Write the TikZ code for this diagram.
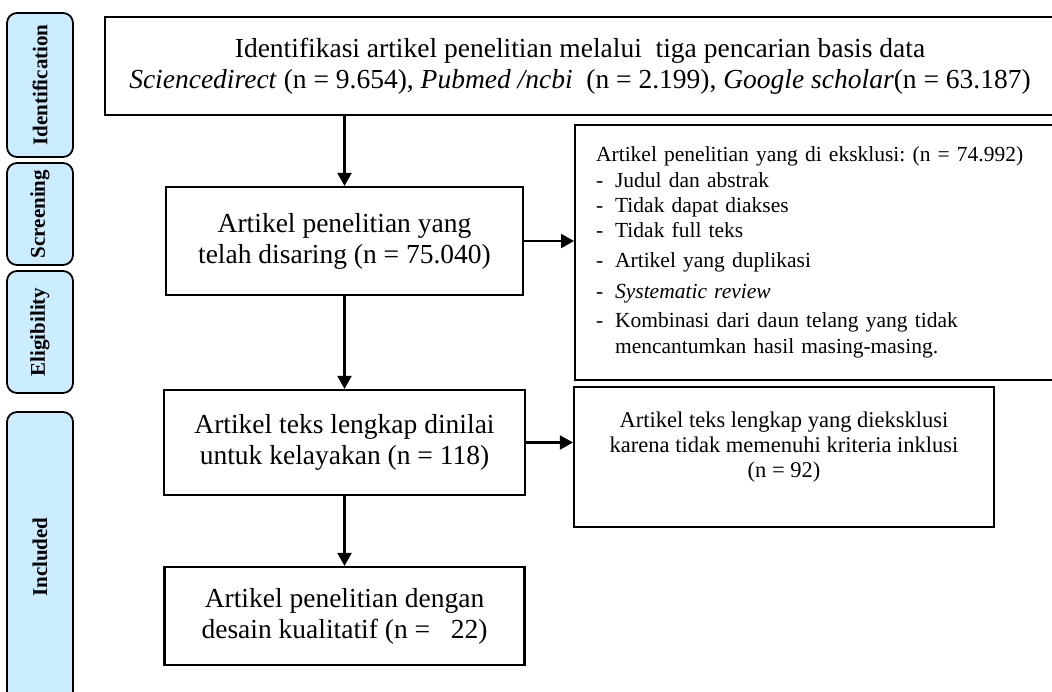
\documentclass[tikz,border=0pt]{standalone}
\usepackage{fontspec}
\setmainfont{Liberation Serif}
\usepackage{xcolor}
\usepackage{tikz}
\usetikzlibrary{arrows.meta}
\definecolor{stagefill}{RGB}{204,236,255}
\newcommand{\dashitem}{\makebox[19pt][l]{-}}
\frenchspacing

\begin{document}
\begin{tikzpicture}[x=1pt, y=-1pt, - > , >= {Triangle[length=13pt, width=14pt]}, line width=2.2pt,
  box/.style={rectangle, draw, align=center, inner sep=0pt, font=\fontsize{27.5}{31}\selectfont},
  stage/.style={rectangle, rounded corners=10pt, draw, fill=stagefill, line width=1.8pt, rotate=90, minimum height=66pt, font=\fontsize{21}{23}\selectfont\bfseries}]
   \useasboundingbox (0 , 0) rectangle (1052 , 691);

   % stages on the left
   \node [stage, minimum width=144pt] (sident) at (40 , 85) {Identification};
   \node [stage, minimum width=102pt] (sscr) at (40 , 214) {Screening};
   \node [stage, minimum width=122pt] (selig) at (40 , 332) {Eligibility};
   \node [stage, minimum width=290pt] (sincl) at (40 , 557) {Included};

   % main boxes
   \node [box, minimum width=950pt, minimum height=98pt] (ident) at (580 , 66) {Identifikasi artikel penelitian melalui\ \ tiga pencarian basis data\\ \textit{Sciencedirect} (n = 9.654), \textit{Pubmed /ncbi}\ \ (n = 2.199), \textit{Google scholar}(n = 63.187)};
   \node [box, minimum width=357pt, minimum height=108pt] (scr) at (344.5 , 241) {Artikel penelitian yang\\ telah disaring (n = 75.040)};
   \node [box, minimum width=361pt, minimum height=105pt] (elig) at (344.5 , 442.5) {Artikel teks lengkap dinilai\\ untuk kelayakan (n = 118)};
   \node [box, minimum width=360pt, minimum height=98pt] (incl) at (344.5 , 616) {Artikel penelitian dengan\\ desain kualitatif (n =\ \ \ 22)};

   % excluded
   \node [box, anchor=west, align=left, text width=460pt, minimum height=255pt, inner xsep=21pt, font=\fontsize{21.5}{25}\selectfont] (excl1) at (574 , 252.5) {Artikel penelitian yang di eksklusi: (n = 74.992)\\[1pt]
     \dashitem Judul dan abstrak\\
     \dashitem Tidak dapat diakses\\
     \dashitem Tidak full teks\\[5pt]
     \dashitem Artikel yang duplikasi\\[6pt]
     \dashitem \textit{Systematic review}\\[4pt]
     \dashitem Kombinasi dari daun telang yang tidak\\[1pt]
     \hspace*{19pt}mencantumkan hasil masing-masing.};
   \node [box, minimum width=420pt, minimum height=140pt] (excl2) at (784 , 457) {};
   \node [align=center, font=\fontsize{22.5}{25}\selectfont] (excl2txt) at (784 , 447) {Artikel teks lengkap yang dieksklusi\\ karena tidak memenuhi kriteria inklusi\\ (n = 92)};

   \path (ident.south -| scr.north) edge (scr.north) ;
   \path (scr.east) edge (scr.east -| excl1.west) ;
   \path (scr.south) edge (elig.north) ;
   \path (elig.east) edge (elig.east -| excl2.west) ;
   \path (elig.south) edge (incl.north) ;
\end{tikzpicture}
\end{document}
